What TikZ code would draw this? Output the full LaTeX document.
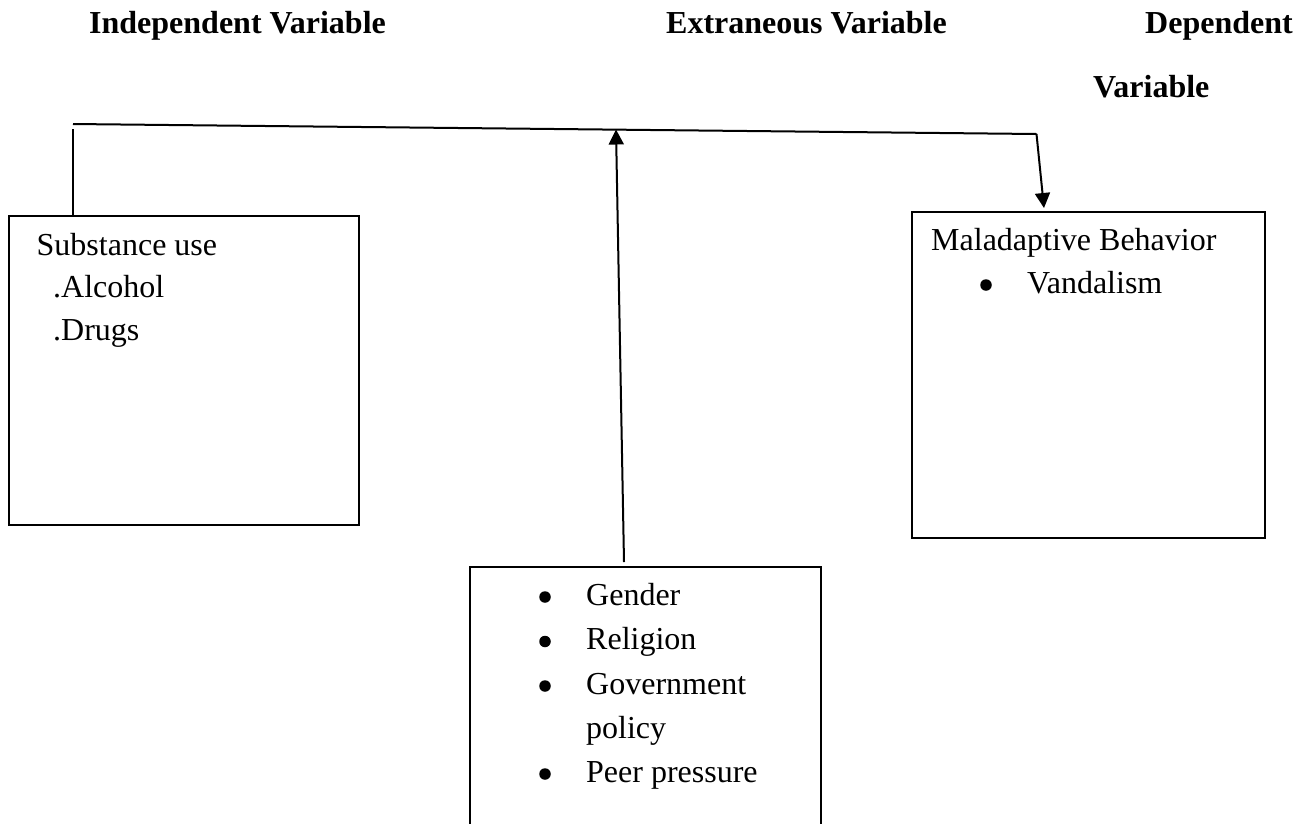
\documentclass[tikz,border=0pt]{standalone}
\usepackage{fontspec}
\setmainfont{Liberation Serif}
\usetikzlibrary{arrows.meta}
\begin{document}
\begin{tikzpicture}[x=1pt,y=-1pt,
  lbl/.style={anchor=base west, inner sep=0pt, font=\fontsize{32}{38}\selectfont},
  head/.style={anchor=base west, inner sep=0pt, font=\fontsize{32}{38}\selectfont\bfseries},
  box/.style={draw, line width=2pt, anchor=north west, inner sep=0pt},
  dot/.style={circle, fill, inner sep=0pt, minimum size=11.5pt},
  conn/.style={line width=2pt},
  arr/.style={conn, -{Triangle[length=15pt,width=15pt]}}]
\clip (0,0) rectangle (1304,823);
\fill[white] (0,0) rectangle (1304,823);
% headings
\node[head] (ivh) at (89,33) {Independent Variable};
\node[head] (evh) at (666,33) {Extraneous Variable};
\node[head] (dvh1) at (1145,33) {Dependent};
\node[head] (dvh2) at (1093,97) {Variable};
% boxes
\node[box, minimum width=350.5pt, minimum height=309pt] (iv) at (7.5,215) {};
\node[box, minimum width=353pt, minimum height=326pt] (dv) at (910.5,211) {};
\node[box, minimum width=351pt, minimum height=320pt] (ev) at (469,566) {};
% independent variable text
\node[lbl] (iv1) at (36.5,255) {Substance use};
\node[lbl] (iv2) at (53,297) {.Alcohol};
\node[lbl] (iv3) at (53,340) {.Drugs};
% dependent variable text
\node[lbl] (dv1) at (931,250) {Maladaptive Behavior};
\node[dot] (dvb1) at (986,285) {};
\node[lbl] (dv2) at (1027,293) {Vandalism};
% extraneous variable text
\node[dot] (evb1) at (545,597) {};
\node[lbl] (ev1) at (586,605) {Gender};
\node[dot] (evb2) at (545,641.5) {};
\node[lbl] (ev2) at (586,649.5) {Religion};
\node[dot] (evb3) at (545,686) {};
\node[lbl] (ev3) at (586,694) {Government};
\node[lbl] (ev4) at (586,738) {policy};
\node[dot] (evb5) at (545,774) {};
\node[lbl] (ev5) at (586,782) {Peer pressure};
% connectors
\coordinate (hl) at (73,124);
\coordinate (hr) at (1036.5,134);
\coordinate (vt) at (72.5,129);
\coordinate (dtip) at (1044,208);
\coordinate (etop) at (616,129.5);
\coordinate (ebot) at (624,562);
\draw[conn] (hl) -- (hr);
\draw[conn] (vt) -- (vt |- iv.north);
\draw[arr] (hr) -- (dtip);
\draw[arr] (ebot) -- (etop);
\end{tikzpicture}
\end{document}
